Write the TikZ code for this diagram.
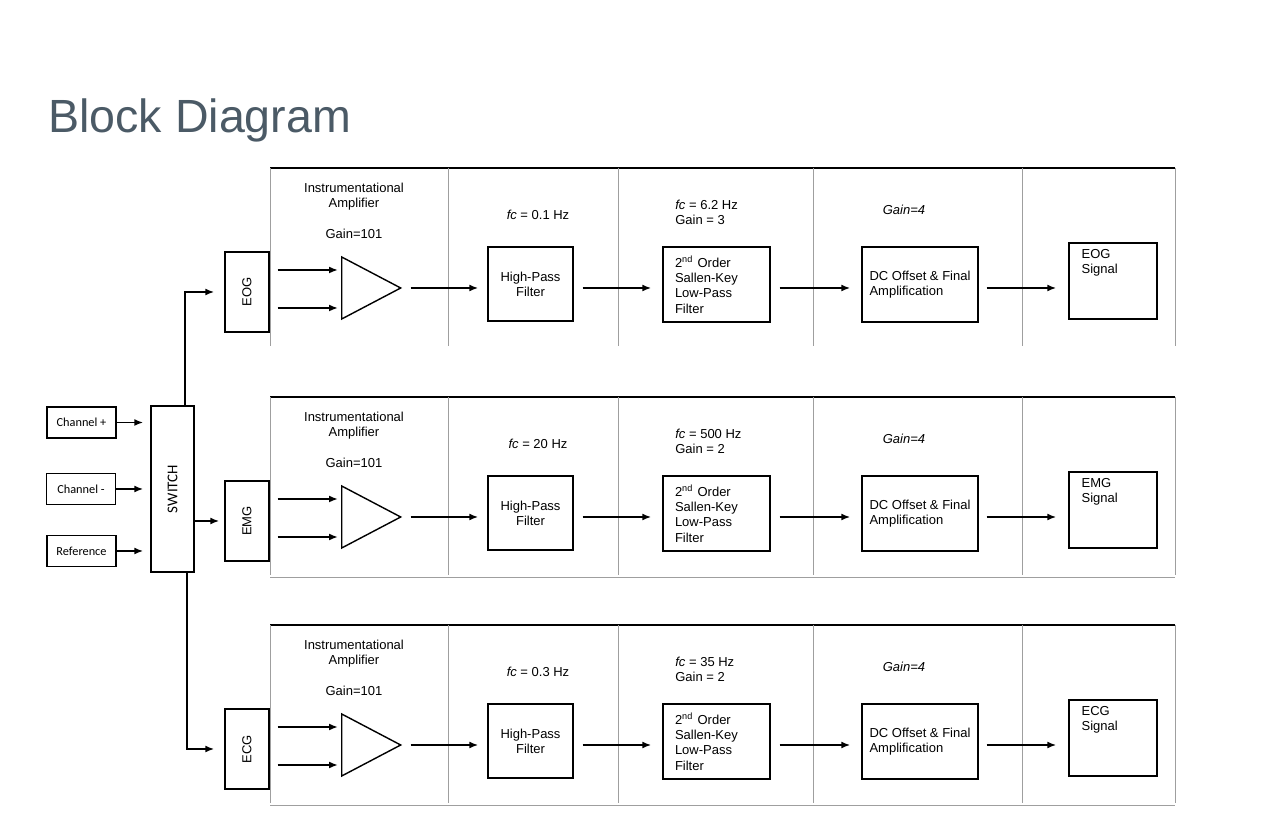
\documentclass[tikz,border=0pt]{standalone}
\usepackage{fontspec}
\setmainfont{Liberation Sans}
\newfontfamily\calfont{Carlito}
\usepackage{graphicx}
\usetikzlibrary{shapes.geometric,calc,positioning,arrows.meta}
\definecolor{titlegray}{HTML}{4B5A66}

\begin{document}
\begin{tikzpicture}[x=0.02cm,y=-0.02cm,
  blk/.style={draw,line width=0.8pt,inner sep=0pt},
  arr/.style={-{Latex[length=1.8mm,width=1.4mm]},line width=1pt},
  rowline/.style={gray!75,line width=0.5pt},
  topline/.style={black,line width=0.9pt},
  txt/.style={font=\fontsize{7.4}{8.6}\selectfont,inner sep=0pt},
  small/.style={font=\calfont\fontsize{7}{8}\selectfont}]
\useasboundingbox (0,0) rectangle (1272,830);

\node[anchor=base west,inner sep=0pt,text=titlegray,
  font=\fontsize{26.5}{30}\selectfont] (title) at (48,133) {Block Diagram};

% inputs and switch
\node[blk,small,minimum width=1.38cm,minimum height=0.62cm] (chp) at (81.5,422.5) {Channel +};
\node[blk,small,minimum width=1.38cm,minimum height=0.62cm] (chm) at (81,489) {Channel -};
\node[blk,small,minimum width=1.38cm,minimum height=0.62cm] (ref) at (81.5,551) {Reference};
\node[blk,font=\calfont\fontsize{8.5}{9}\selectfont,minimum width=0.86cm,minimum height=3.32cm] (sw) at (172.5,489) {\rotatebox{90}{SWITCH}};
\foreach \n in {chp,chm,ref}
  \draw[arr,shorten >=0.14cm] (\n.east) -- (sw.west |- \n.east);

% one row per signal
\foreach \ty/\sig/\fhp/\flp/\glp [count=\k] in {168/EOG/0.1/6.2/3,397/EMG/20/500/2,625/ECG/0.3/35/2}{
  \draw[topline] (270,\ty) -- (1175,\ty);
  \foreach \xd in {270,448,618,813,1022,1175}
    \draw[rowline] (\xd,\ty) -- (\xd,\ty+178);
  \ifnum\k>1 \draw[rowline] (270,\ty+180) -- (1175,\ty+180); \fi

  \node[blk,txt,minimum width=0.88cm,minimum height=1.6cm] (sig\k) at (247,\ty+124) {\rotatebox{90}{\sig}};
  \node[draw,line width=0.8pt,isosceles triangle,isosceles triangle stretches,
    minimum width=1.24cm,minimum height=1.18cm,inner sep=0pt,anchor=west] (amp\k) at (341,\ty+120) {};
  \node[txt,align=center] (ampl\k) at (354,\ty+29) {Instrumentational\\Amplifier};
  \node[txt] (ampg\k) at (354,\ty+66) {Gain=101};
  \coordinate (ia\k) at ($(amp\k.west)+(0,-18)$);
  \coordinate (ib\k) at ($(amp\k.west)+(0,20)$);
  \draw[arr,shorten <=0.16cm,shorten >=0.06cm] (sig\k.east |- ia\k) -- (ia\k);
  \draw[arr,shorten <=0.16cm,shorten >=0.06cm] (sig\k.east |- ib\k) -- (ib\k);

  \node[blk,txt,align=center,minimum width=1.7cm,minimum height=1.48cm] (hpf\k) at (530.5,\ty+116) {High-Pass\\Filter};
  \node[txt] (fhp\k) at (538,\ty+47) {\textit{fc} = \fhp{} Hz};

  \node[blk,txt,align=left,text width=1.66cm,inner xsep=0.24cm,minimum height=1.5cm] (lpf\k) at (716.5,\ty+116.5)
    {2\textsuperscript{nd} Order\\Sallen-Key\\Low-Pass\\Filter};
  \node[txt,anchor=west,align=left] (flp\k) at (675,\ty+44.5) {\textit{fc} = \flp{} Hz\\Gain = \glp};

  \node[blk,txt,align=left,minimum width=2.32cm,minimum height=1.5cm] (dc\k) at (920,\ty+116.5)
    {DC Offset \& Final\\Amplification};
  \node[txt] (gdc\k) at (904,\ty+42) {\textit{Gain=4}};

  \node[blk,minimum width=1.76cm,minimum height=1.52cm] (out\k) at (1113,\ty+113) {};
  \node[txt,anchor=north west,align=left] (outl\k) at ($(out\k.north west)+(13,7)$) {\sig\\Signal};

  \draw[arr,shorten <=0.16cm,shorten >=0.18cm] (amp\k.east) -- (hpf\k.west |- amp\k.east);
  \draw[arr,shorten <=0.18cm,shorten >=0.22cm] (hpf\k.east |- amp\k.east) -- (lpf\k.west |- amp\k.east);
  \draw[arr,shorten <=0.18cm,shorten >=0.22cm] (lpf\k.east |- amp\k.east) -- (dc\k.west |- amp\k.east);
  \draw[arr,shorten <=0.16cm,shorten >=0.24cm] (dc\k.east |- amp\k.east) -- (out\k.west |- amp\k.east);
}

% switch to the three rows
\draw[arr,shorten >=0.2cm] ($(sw.north)+(12.5,0)$) |- (sig1.west);
\draw[arr,shorten >=0.1cm] (sw.east |- sig2.west) -- (sig2.west);
\draw[arr,shorten >=0.2cm] ($(sw.south)+(14.5,0)$) |- (sig3.west);
\end{tikzpicture}
\end{document}
